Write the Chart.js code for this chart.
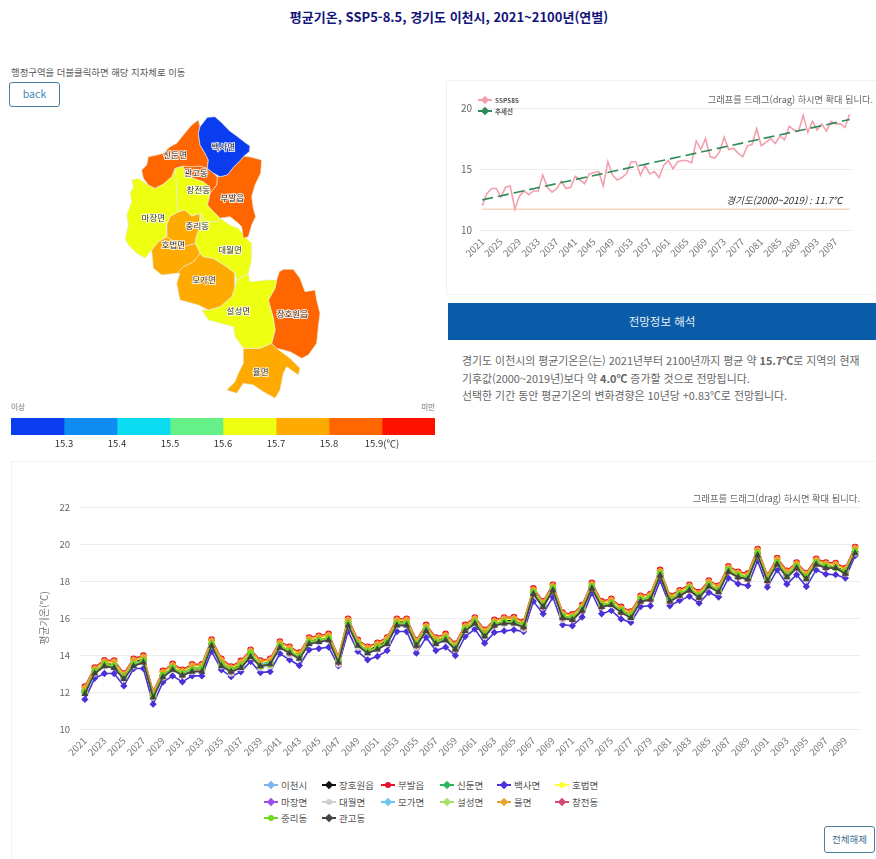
<!DOCTYPE html>
<html lang="ko">
<head>
<meta charset="utf-8">
<title>평균기온, SSP5-8.5, 경기도 이천시</title>
<script src="https://cdn.jsdelivr.net/npm/chart.js@4"></script>
<style>
  html, body { margin: 0; padding: 0; background: #fff; }
  body { width: 876px; height: 859px; position: relative; overflow: hidden; font-family: "Noto Sans CJK KR", "Noto Sans", sans-serif; color: #555; }
  .abs { position: absolute; white-space: nowrap; }
  canvas { position: absolute; display: block; }
  .btn { position: absolute; box-sizing: border-box; background: #fff; border: 1px solid #4a7f9f; border-radius: 3px; text-align: center; }
  #bigLegend { position: absolute; left: 264px; top: 777px; display: grid; grid-template-columns: 58px 59px 59px 57px 58px 60px; grid-auto-rows: 16.5px; font-size: 9.5px; color: #555; }
  #smallLegend { position: absolute; left: 478px; top: 94px; display: grid; grid-auto-rows: 11px; font-size: 6.5px; color: #555; font-weight: 700; }
  .lg { display: flex; align-items: center; }
  .key { position: relative; display: inline-block; width: 14px; height: 2px; margin-right: 3px; flex: none; }
  .key i { position: absolute; left: 4px; top: -2px; width: 6px; height: 6px; }
</style>
</head>
<body>
<div class="abs" style="left:11px;width:876px;top:7px;text-align:center;font-size:13px;font-weight:700;color:#14147a;">평균기온, SSP5-8.5, 경기도 이천시, 2021~2100년(연별)</div>

<div class="abs" style="left:11px;top:65px;font-size:9.4px;color:#555;">행정구역을 더블클릭하면 해당 지자체로 이동</div>
<div class="btn" style="left:9px;top:82px;width:51px;height:25px;line-height:22px;font-size:10.5px;color:#3a86b8;">back</div>
<canvas id="mapChart" width="210" height="290" style="left:120px;top:110px;"></canvas>
<div class="abs" style="left:11px;top:401px;font-size:7.5px;color:#777;">이상</div>
<div class="abs" style="right:441px;top:401px;font-size:7.5px;color:#777;">미만</div>
<canvas id="scaleChart" width="446" height="38" style="left:0;top:416px;"></canvas>

<div class="abs" style="left:446px;top:80px;width:429px;height:213px;border:1px solid #f2f2f2;"></div>
<canvas id="smallChart" width="428" height="210" style="left:447px;top:81px;"></canvas>
<div class="abs" style="right:3px;top:92px;font-size:9.2px;color:#666;">그래프를 드래그(drag) 하시면 확대 됩니다.</div>
<div id="smallLegend"></div>

<div class="abs" style="left:448px;top:303px;width:428px;height:37px;line-height:36px;background:#0a5ca8;color:#e8f2fa;font-size:11.5px;text-align:center;">전망정보 해석</div>
<div class="abs" style="left:462px;top:352px;font-size:10.9px;line-height:17.6px;color:#666;">
경기도 이천시의 평균기온은(는) 2021년부터 2100년까지 평균 약 <b>15.7℃</b>로 지역의 현재<br>
기후값(2000~2019년)보다 약 <b>4.0℃</b> 증가할 것으로 전망됩니다.<br>
선택한 기간 동안 평균기온의 변화경향은 10년당 +0.83℃로 전망됩니다.</div>

<div class="abs" style="left:11px;top:461px;width:865px;height:398px;border-left:1px solid #f2f2f2;border-top:1px solid #f2f2f2;"></div>
<canvas id="bigChart" width="864" height="310" style="left:12px;top:462px;"></canvas>
<div class="abs" style="right:16px;top:491px;font-size:9.3px;color:#666;">그래프를 드래그(drag) 하시면 확대 됩니다.</div>
<div id="bigLegend"></div>
<div class="btn" style="left:824px;top:826px;width:51px;height:27px;line-height:24px;font-size:9.5px;color:#3f6f8c;">전체해제</div>

<script>
Chart.defaults.font.family = '"Noto Sans CJK KR", "Noto Sans", sans-serif';
Chart.defaults.animation = false;

// ---------------------------- data ----------------------------
var years = [];
for (var y = 2021; y <= 2100; y++) years.push(String(y));

var icheonSi = [12.0,13.0,13.4,13.4,12.7,13.5,13.6,11.7,12.8,13.2,
  12.9,13.2,13.2,14.5,13.5,13.1,13.4,14.0,13.4,13.5,
  14.4,14.1,13.8,14.6,14.7,14.8,13.6,15.6,14.5,14.1,
  14.3,14.6,15.6,15.6,14.5,15.3,14.6,14.8,14.3,15.3,
  15.7,15.0,15.6,15.7,15.7,15.5,17.3,16.6,17.5,16.0,
  15.9,16.4,17.6,16.6,16.7,16.3,16.0,16.9,17.0,18.3,
  16.9,17.2,17.5,17.1,17.7,17.4,18.5,18.2,18.1,19.4,
  18.0,18.9,18.2,18.7,18.1,18.9,18.7,18.7,18.4,19.5];
var janghowon = [12.1,13.1,13.5,13.5,12.8,13.6,13.8,11.8,12.9,13.3,
  13.0,13.3,13.3,14.6,13.6,13.2,13.5,14.1,13.5,13.6,
  14.5,14.2,13.9,14.8,14.8,14.9,13.7,15.8,14.6,14.2,
  14.5,14.8,15.8,15.8,14.6,15.4,14.8,14.9,14.4,15.4,
  15.8,15.2,15.7,15.8,15.9,15.6,17.4,16.7,17.6,16.1,
  16.0,16.5,17.7,16.7,16.8,16.4,16.2,17.0,17.1,18.4,
  17.0,17.3,17.6,17.2,17.8,17.5,18.6,18.3,18.2,19.5,
  18.1,19.0,18.4,18.8,18.2,19.0,18.8,18.8,18.5,19.6];
var bubal = [12.29,13.32,13.72,13.70,13.00,13.80,13.97,12.00,13.14,13.52,
  13.20,13.50,13.50,14.84,13.80,13.38,13.68,14.28,13.70,13.80,
  14.73,14.45,14.13,14.95,15.04,15.14,13.90,15.96,14.82,14.45,
  14.66,14.95,15.96,15.96,14.80,15.63,14.95,15.14,14.60,15.63,
  16.03,15.36,15.90,16.03,16.05,15.80,17.60,16.90,17.80,16.30,
  16.20,16.70,17.90,16.90,17.04,16.60,16.35,17.20,17.30,18.60,
  17.20,17.50,17.80,17.40,18.03,17.74,18.80,18.50,18.40,19.73,
  18.30,19.24,18.55,19.00,18.43,19.20,19.00,18.97,18.70,19.84];
var sindun = [12.0,13.1,13.5,13.4,12.8,13.5,13.7,11.8,12.9,13.3,
  12.9,13.2,13.2,14.6,13.5,13.1,13.4,14.0,13.4,13.5,
  14.5,14.2,13.9,14.7,14.8,14.9,13.6,15.7,14.6,14.2,
  14.4,14.7,15.7,15.7,14.5,15.4,14.7,14.9,14.3,15.4,
  15.8,15.1,15.6,15.8,15.8,15.5,17.3,16.6,17.5,16.0,
  15.9,16.4,17.6,16.6,16.8,16.3,16.1,16.9,17.0,18.3,
  16.9,17.2,17.5,17.1,17.8,17.5,18.5,18.2,18.1,19.5,
  18.0,19.0,18.3,18.7,18.2,18.9,18.7,18.7,18.4,19.6];
var baeksa = [11.60,12.74,13.00,13.00,12.33,13.27,13.27,11.34,12.53,12.87,
  12.55,12.87,12.87,14.19,13.20,12.83,13.09,13.65,13.05,13.10,
  14.08,13.74,13.43,14.28,14.35,14.42,13.41,15.29,14.19,13.74,
  13.92,14.24,15.27,15.27,14.10,14.95,14.24,14.42,13.97,15.00,
  15.40,14.64,15.22,15.30,15.36,15.27,16.90,16.23,17.13,15.63,
  15.58,16.05,17.35,16.23,16.40,15.94,15.76,16.62,16.66,18.03,
  16.66,16.95,17.17,16.80,17.38,17.13,18.16,17.85,17.74,19.10,
  17.67,18.60,17.83,18.34,17.70,18.60,18.37,18.34,18.16,19.37];
var hobeop = [12.19,13.22,13.62,13.60,12.90,13.70,13.87,11.90,13.04,13.42,
  13.10,13.40,13.40,14.74,13.70,13.28,13.58,14.18,13.60,13.70,
  14.63,14.35,14.03,14.85,14.94,15.04,13.80,15.86,14.72,14.35,
  14.56,14.85,15.86,15.86,14.70,15.53,14.85,15.04,14.50,15.53,
  15.93,15.26,15.80,15.93,15.95,15.70,17.50,16.80,17.70,16.20,
  16.10,16.60,17.80,16.80,16.94,16.50,16.25,17.10,17.20,18.50,
  17.10,17.40,17.70,17.30,17.93,17.64,18.70,18.40,18.30,19.63,
  18.20,19.14,18.45,18.90,18.33,19.10,18.90,18.87,18.60,19.74];
var majang = [12.0,13.0,13.4,13.3,12.7,13.4,13.6,11.7,12.8,13.2,
  12.9,13.2,13.2,14.5,13.5,13.1,13.3,14.0,13.4,13.5,
  14.4,14.1,13.8,14.6,14.7,14.8,13.6,15.6,14.5,14.1,
  14.3,14.6,15.6,15.6,14.5,15.3,14.6,14.8,14.3,15.3,
  15.7,15.0,15.6,15.7,15.7,15.5,17.3,16.6,17.5,16.0,
  15.9,16.4,17.6,16.6,16.7,16.3,16.0,16.9,17.0,18.3,
  16.9,17.2,17.5,17.1,17.7,17.4,18.5,18.2,18.1,19.4,
  18.0,18.9,18.2,18.7,18.1,18.9,18.7,18.7,18.4,19.5];
var daewol = [12.0,13.0,13.4,13.4,12.7,13.4,13.6,11.7,12.8,13.2,
  12.9,13.1,13.2,14.5,13.4,13.0,13.3,13.9,13.3,13.4,
  14.4,14.0,13.8,14.6,14.7,14.8,13.5,15.6,14.4,14.1,
  14.3,14.6,15.6,15.6,14.4,15.3,14.6,14.8,14.3,15.3,
  15.7,15.0,15.6,15.7,15.7,15.4,17.3,16.6,17.5,15.9,
  15.9,16.4,17.6,16.6,16.7,16.3,16.0,16.9,17.0,18.3,
  16.9,17.2,17.5,17.1,17.7,17.4,18.5,18.2,18.1,19.4,
  18.0,18.9,18.2,18.7,18.1,18.9,18.7,18.7,18.4,19.5];
var moga = [12.1,13.1,13.5,13.4,12.8,13.6,13.7,11.8,12.9,13.3,
  13.0,13.3,13.3,14.6,13.6,13.1,13.4,14.1,13.5,13.6,
  14.5,14.2,13.9,14.7,14.8,14.9,13.7,15.7,14.6,14.2,
  14.4,14.7,15.7,15.7,14.6,15.4,14.7,14.9,14.4,15.4,
  15.8,15.1,15.7,15.8,15.8,15.6,17.4,16.7,17.6,16.1,
  16.0,16.5,17.7,16.7,16.8,16.4,16.1,17.0,17.1,18.4,
  17.0,17.3,17.6,17.2,17.8,17.5,18.6,18.3,18.2,19.5,
  18.1,19.0,18.3,18.8,18.2,19.0,18.8,18.7,18.5,19.6];
var seolseong = [12.0,13.0,13.4,13.4,12.7,13.5,13.7,11.7,12.9,13.2,
  12.9,13.2,13.2,14.6,13.5,13.1,13.4,14.0,13.4,13.5,
  14.4,14.2,13.8,14.7,14.8,14.9,13.6,15.7,14.5,14.2,
  14.4,14.7,15.7,15.7,14.5,15.3,14.7,14.9,14.3,15.3,
  15.7,15.1,15.6,15.7,15.8,15.5,17.3,16.6,17.5,16.0,
  15.9,16.4,17.6,16.6,16.8,16.3,16.1,16.9,17.0,18.3,
  16.9,17.2,17.5,17.1,17.7,17.5,18.5,18.2,18.1,19.4,
  18.0,19.0,18.3,18.7,18.1,18.9,18.7,18.7,18.4,19.6];
var yul = [12.24,13.27,13.67,13.65,12.95,13.75,13.90,11.95,13.09,13.47,
  13.15,13.45,13.45,14.79,13.75,13.33,13.63,14.23,13.65,13.75,
  14.68,14.40,14.08,14.90,14.99,15.09,13.85,15.91,14.77,14.40,
  14.61,14.90,15.91,15.91,14.75,15.58,14.90,15.09,14.55,15.58,
  15.98,15.31,15.85,15.98,16.00,15.75,17.55,16.85,17.75,16.25,
  16.15,16.65,17.85,16.85,16.99,16.55,16.30,17.15,17.25,18.55,
  17.15,17.45,17.75,17.35,17.98,17.69,18.75,18.45,18.35,19.68,
  18.25,19.19,18.50,18.95,18.38,19.15,18.95,18.92,18.65,19.79];
var changjeon = [12.0,13.1,13.5,13.4,12.8,13.5,13.7,11.8,12.9,13.3,
  12.9,13.2,13.2,14.6,13.5,13.1,13.4,14.0,13.4,13.5,
  14.5,14.1,13.9,14.7,14.8,14.9,13.6,15.7,14.6,14.2,
  14.4,14.7,15.7,15.7,14.5,15.4,14.7,14.9,14.3,15.4,
  15.8,15.1,15.6,15.8,15.8,15.5,17.3,16.6,17.5,16.0,
  15.9,16.4,17.6,16.6,16.8,16.3,16.1,16.9,17.0,18.3,
  16.9,17.2,17.5,17.1,17.8,17.5,18.5,18.2,18.1,19.5,
  18.0,19.0,18.3,18.7,18.2,18.9,18.7,18.7,18.4,19.6];
var jungni = [12.0,13.1,13.5,13.4,12.8,13.5,13.7,11.8,12.9,13.3,
  13.0,13.2,13.3,14.6,13.5,13.2,13.4,14.1,13.4,13.5,
  14.5,14.2,13.9,14.7,14.8,14.9,13.7,15.7,14.6,14.2,
  14.4,14.7,15.7,15.7,14.6,15.4,14.7,14.9,14.4,15.4,
  15.8,15.1,15.7,15.8,15.8,15.6,17.4,16.7,17.6,16.1,
  16.0,16.5,17.7,16.7,16.8,16.4,16.1,17.0,17.1,18.4,
  17.0,17.3,17.6,17.2,17.8,17.5,18.6,18.3,18.2,19.5,
  18.1,19.0,18.3,18.8,18.2,19.0,18.8,18.7,18.5,19.6];
var gwango = [11.9,13.0,13.4,13.3,12.7,13.4,13.6,11.7,12.8,13.2,
  12.9,13.1,13.1,14.5,13.4,13.1,13.3,13.9,13.4,13.5,
  14.4,14.1,13.8,14.6,14.7,14.8,13.6,15.6,14.5,14.1,
  14.3,14.6,15.6,15.6,14.5,15.3,14.6,14.8,14.3,15.3,
  15.7,15.0,15.6,15.7,15.7,15.5,17.3,16.6,17.5,16.0,
  15.9,16.4,17.6,16.6,16.7,16.3,16.0,16.9,17.0,18.3,
  16.9,17.2,17.5,17.1,17.7,17.4,18.5,18.2,18.1,19.4,
  18.0,18.9,18.2,18.7,18.1,18.9,18.7,18.7,18.4,19.5];

var seriesNames = ['이천시','장호원읍','부발읍','신둔면','백사면','호법면','마장면','대월면','모가면','설성면','율면','창전동','중리동','관고동'];
var seriesValues = [icheonSi,janghowon,bubal,sindun,baeksa,hobeop,majang,daewol,moga,seolseong,yul,changjeon,jungni,gwango];
var seriesColors = ['#7cb5ec','#111111','#e8102a','#2fb45f','#4a32d8','#ffff33','#9b4de8','#cfcfcf','#6cc8ee','#a5e06a','#e8a32e','#d6496e','#6fd820','#444444'];
var seriesMarks = ['rectRot','rectRot','circle','triangle','rectRot','circle','rectRot','circle','rectRot','triangle','rectRot','rectRot','circle','triangle'];
var bigTicks = [10,12,14,16,18,20,22];

// 추세선, 기준선 : read at both ends of the line
var trendYears = ['2021','2100'];
var trendTemps = [12.47,19.05];
var baseYears = ['2021','2100'];
var baseTemps = [11.7,11.7];
var smallTicks = [10,15,20];

// color scale
var scaleBreaks = [15.2,15.3,15.4,15.5,15.6,15.7,15.8,15.9,16.0];
var scaleColors = ['#0a3cf0','#0f8cf2','#0cdcf2','#66f088','#eeff11','#ffaa00','#ff6600','#ff1100'];

// map
var districtNames = ['백사면','신둔면','관고동','창전동','부발읍','마장면','중리동','호법면','대월면','모가면','설성면','장호원읍','율면'];
var districtMeans = [15.25,15.85,15.85,15.65,15.85,15.65,15.75,15.75,15.65,15.75,15.65,15.85,15.75];
var districtLabelAt = [[310,110],[165,133],[228,188],[235,240],[337,262],[100,323],[232,347],[160,403],[330,418],[252,510],[355,603],[517,612],[422,785]];
var districtShapes = [
  [[240,50],[262,22],[285,20],[305,38],[328,62],[350,78],[372,95],[390,108],[388,125],[372,138],[360,152],[340,172],[322,195],[300,200],[278,188],[262,175],[265,150],[255,130],[240,105],[235,70]],
  [[235,30],[240,50],[235,70],[240,105],[255,130],[265,150],[262,175],[240,168],[210,170],[190,168],[165,175],[155,200],[130,222],[105,235],[85,225],[70,205],[65,180],[80,165],[85,140],[110,135],[130,130],[150,110],[170,100],[190,75],[215,45]],
  [[190,168],[210,170],[240,168],[262,175],[278,188],[292,200],[290,225],[270,250],[268,230],[250,215],[220,205],[195,195]],
  [[165,175],[190,168],[195,195],[220,205],[250,215],[268,230],[270,250],[262,285],[280,305],[300,325],[290,335],[260,335],[240,310],[215,318],[195,300],[175,305],[170,280],[170,230]],
  [[300,200],[322,195],[340,172],[360,152],[372,138],[395,142],[425,150],[422,190],[405,225],[395,260],[400,295],[407,320],[395,345],[385,380],[370,385],[365,350],[355,340],[330,320],[300,325],[280,305],[262,285],[270,250],[290,225],[292,200]],
  [[35,210],[55,205],[85,225],[105,235],[130,222],[155,200],[165,175],[170,230],[170,280],[175,305],[150,320],[140,345],[140,380],[115,395],[95,420],[75,445],[50,430],[25,405],[15,385],[25,345],[20,315],[35,275],[30,250],[40,230]],
  [[175,305],[195,300],[215,318],[240,310],[240,350],[230,375],[225,400],[190,410],[140,380],[140,345],[150,320]],
  [[140,380],[190,410],[225,400],[240,430],[220,455],[190,470],[170,490],[125,495],[100,475],[95,420],[115,395]],
  [[240,310],[260,335],[290,335],[300,325],[330,345],[355,355],[380,385],[395,400],[395,450],[385,490],[350,510],[345,490],[320,470],[280,445],[250,440],[240,430],[225,400],[230,375],[240,350]],
  [[240,430],[250,440],[280,445],[320,470],[345,490],[345,530],[335,560],[300,590],[265,600],[235,585],[180,570],[170,520],[180,490],[170,490],[190,470],[220,455]],
  [[350,510],[385,490],[390,515],[440,510],[470,510],[465,535],[445,570],[460,625],[465,660],[455,700],[420,715],[370,715],[345,680],[340,650],[300,640],[265,630],[245,600],[265,600],[300,590],[335,560],[345,530]],
  [[478,485],[490,478],[520,478],[540,505],[555,545],[585,540],[590,570],[600,610],[595,650],[590,700],[565,735],[545,745],[510,725],[470,715],[455,700],[465,660],[460,625],[445,570],[465,535],[470,510]],
  [[370,715],[420,715],[455,700],[470,715],[510,745],[540,775],[535,795],[500,770],[490,790],[480,840],[465,865],[430,845],[400,825],[370,820],[350,850],[320,840],[345,815],[355,790],[370,760]]
];

function colorOf(value) {
  for (var i = 0; i < scaleColors.length; i++) {
    if (value < scaleBreaks[i + 1]) return scaleColors[i];
  }
  return scaleColors[scaleColors.length - 1];
}

// ---------------------------- map ----------------------------
new Chart(document.getElementById('mapChart'), {
  type: 'scatter',
  data: {
    datasets: districtShapes.map(function (shape, i) {
      return {
        label: districtNames[i],
        data: shape.concat([shape[0]]).map(function (p) { return {x: p[0], y: p[1]}; }),
        showLine: true,
        fill: 'shape',
        backgroundColor: colorOf(districtMeans[i]),
        borderColor: 'rgba(235,235,225,0.8)',
        borderWidth: 0.8,
        pointRadius: 0,
        tension: 0
      };
    })
  },
  options: {
    responsive: false,
    plugins: {legend: {display: false}, tooltip: {enabled: false}},
    scales: {
      x: {display: false, min: 0, max: 630},
      y: {display: false, min: 0, max: 870, reverse: true}
    }
  },
  plugins: [{
    id: 'districtLabels',
    afterDatasetsDraw: function (chart) {
      var ctx = chart.ctx;
      ctx.save();
      ctx.font = '8.5px "Noto Sans CJK KR"';
      ctx.textAlign = 'center';
      ctx.textBaseline = 'middle';
      ctx.lineJoin = 'round';
      districtNames.forEach(function (name, i) {
        var px = chart.scales.x.getPixelForValue(districtLabelAt[i][0]);
        var py = chart.scales.y.getPixelForValue(districtLabelAt[i][1]);
        ctx.lineWidth = 2;
        ctx.strokeStyle = 'rgba(255,255,255,0.85)';
        ctx.strokeText(name, px, py);
        ctx.fillStyle = '#333';
        ctx.fillText(name, px, py);
      });
      ctx.restore();
    }
  }]
});

// ---------------------------- color scale ----------------------------
new Chart(document.getElementById('scaleChart'), {
  type: 'bar',
  data: {
    labels: ['scale'],
    datasets: scaleColors.map(function (c, i) {
      return {data: [[scaleBreaks[i], scaleBreaks[i + 1]]], backgroundColor: c, barPercentage: 1, categoryPercentage: 1, grouped: false};
    })
  },
  options: {
    indexAxis: 'y',
    responsive: false,
    layout: {padding: {left: 11, right: 11, top: 2, bottom: 0}},
    plugins: {legend: {display: false}, tooltip: {enabled: false}},
    scales: {
      y: {display: false, stacked: true},
      x: {
        min: 15.2, max: 16.0,
        grid: {display: false, drawTicks: false, tickLength: 0},
        border: {display: false},
        afterFit: function (s) { s.height = 19; },
        ticks: {
          stepSize: 0.1, maxRotation: 0, autoSkip: false, color: '#333', padding: 3,
          font: {size: 9.5},
          callback: function (v) {
            var t = Number(v).toFixed(1);
            if (t === '15.2' || t === '16.0') return '';
            return t === '15.9' ? '15.9(℃)' : t;
          }
        }
      }
    }
  }
});

// ---------------------------- small chart ----------------------------
new Chart(document.getElementById('smallChart'), {
  type: 'line',
  data: {
    labels: years,
    datasets: [
      {label: '추세선', data: trendYears.map(function (t, i) { return {x: t, y: trendTemps[i]}; }), borderColor: '#2e8b57', borderWidth: 1.6, borderDash: [11, 5], pointRadius: 0, order: 0},
      {label: 'SSP585', data: icheonSi, borderColor: '#f3a0ae', borderWidth: 1.6, pointRadius: 0, tension: 0, order: 1},
      {label: 'base', data: baseYears.map(function (t, i) { return {x: t, y: baseTemps[i]}; }), borderColor: '#f8d3bd', borderWidth: 1.5, pointRadius: 0, order: 2}
    ]
  },
  options: {
    responsive: false,
    layout: {padding: {top: 27, right: 23, left: 0, bottom: 0}},
    plugins: {legend: {display: false}, tooltip: {enabled: false}},
    scales: {
      y: {
        min: 10, max: 20,
        afterBuildTicks: function (s) { s.ticks = smallTicks.map(function (v) { return {value: v}; }); },
        afterFit: function (s) { s.width = 33; },
        grid: {color: '#eeeeee', drawTicks: false},
        border: {display: false},
        ticks: {color: '#666', font: {size: 10}, padding: 8}
      },
      x: {
        offset: true,
        grid: {display: false, drawTicks: false},
        border: {display: false},
        afterFit: function (s) { s.height = 61; },
        ticks: {
          autoSkip: false, minRotation: 45, maxRotation: 45, color: '#777', font: {size: 9.5}, padding: 6,
          callback: function (v, i) { return i % 4 === 0 ? years[i] : ''; }
        }
      }
    }
  },
  plugins: [{
    id: 'baseNote',
    afterDatasetsDraw: function (chart) {
      var ctx = chart.ctx;
      ctx.save();
      ctx.font = 'italic 9.6px "Noto Sans CJK KR"';
      ctx.fillStyle = '#333';
      ctx.textAlign = 'right';
      ctx.textBaseline = 'middle';
      ctx.fillText('경기도(2000~2019) : 11.7℃', chart.scales.x.getPixelForValue(2098 - 2021) + 2, chart.scales.y.getPixelForValue(12.45));
      ctx.restore();
    }
  }]
});

// ---------------------------- big chart ----------------------------
new Chart(document.getElementById('bigChart'), {
  type: 'line',
  data: {
    labels: years,
    datasets: seriesNames.map(function (name, i) {
      return {
        label: name,
        data: seriesValues[i],
        borderColor: seriesColors[i],
        backgroundColor: seriesColors[i],
        borderWidth: 1.6,
        pointRadius: 2.5,
        pointStyle: seriesMarks[i],
        tension: 0,
        order: seriesNames.length - i
      };
    })
  },
  options: {
    responsive: false,
    layout: {padding: {top: 45, right: 16, left: 26, bottom: 0}},
    plugins: {legend: {display: false}, tooltip: {enabled: false}},
    scales: {
      y: {
        min: 10, max: 22,
        afterBuildTicks: function (s) { s.ticks = bigTicks.map(function (v) { return {value: v}; }); },
        afterFit: function (s) { s.width = 42; },
        title: {display: true, text: '평균기온(℃)', color: '#777', font: {size: 10}, padding: 0},
        grid: {color: '#eeeeee', drawTicks: false},
        border: {display: false},
        ticks: {color: '#666', font: {size: 9.5}, padding: 10}
      },
      x: {
        offset: true,
        grid: {display: false, drawTicks: false},
        border: {display: false},
        afterFit: function (s) { s.height = 43; },
        ticks: {
          autoSkip: false, minRotation: 45, maxRotation: 45, color: '#777', font: {size: 9.5}, padding: 6,
          callback: function (v, i) { return i % 2 === 0 ? years[i] : ''; }
        }
      }
    }
  }
});

// ---------------------------- html legends ----------------------------
function addLegend(box, names, colors, marks) {
  names.forEach(function (name, i) {
    var item = document.createElement('div');
    item.className = 'lg';
    var key = document.createElement('span');
    key.className = 'key';
    key.style.background = colors[i];
    var dot = document.createElement('i');
    dot.style.background = colors[i];
    dot.style.borderRadius = marks[i] === 'circle' ? '50%' : '0';
    dot.style.transform = marks[i] === 'circle' ? 'none' : 'rotate(45deg)';
    key.appendChild(dot);
    item.appendChild(key);
    item.appendChild(document.createTextNode(name));
    box.appendChild(item);
  });
}
addLegend(document.getElementById('bigLegend'), seriesNames, seriesColors, seriesMarks);
addLegend(document.getElementById('smallLegend'), ['SSP585', '추세선'], ['#f3a0ae', '#2e8b57'], ['rectRot', 'rectRot']);
</script>
</body>
</html>
